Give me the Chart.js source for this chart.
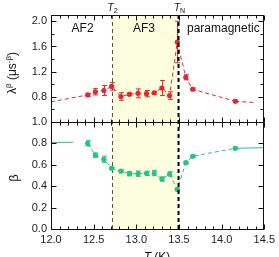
<!DOCTYPE html>
<html>
<head>
<meta charset="utf-8">
<script src="https://cdn.jsdelivr.net/npm/chart.js@4.4.1/dist/chart.umd.min.js"></script>
<style>
  html, body { margin: 0; padding: 0; background: #fff; }
  canvas { display: block; }
</style>
</head>
<body>
<canvas id="myChart" width="279" height="257"></canvas>
<script>
// temperatures (K) of the measured points, shared by both panels
const temps = [12.43, 12.52, 12.62, 12.71, 12.82, 12.92, 13.02, 13.12, 13.21, 13.30, 13.39, 13.48, 13.58, 13.66, 14.16];

// top panel: lambda^beta (us^-beta)
const lambdaVals = [0.83, 0.88, 0.90, 0.965, 0.805, 0.84, 0.855, 0.85, 0.865, 0.94, 0.82, 1.67, 1.11, 0.92, 0.73];
const lambdaErr  = [0.02, 0.05, 0.08, 0.06, 0.06, 0.02, 0.07, 0.05, 0.02, 0.12, 0.06, 0.33, 0.04, 0.02, 0.02];
const lambdaLeadT = [12.0, 12.43];
const lambdaLead  = [0.72, 0.83];
const lambdaTailT = [14.16, 14.38];
const lambdaTail  = [0.73, 0.71];

// bottom panel: beta
const betaVals = [0.80, 0.69, 0.65, 0.567, 0.54, 0.517, 0.517, 0.52, 0.523, 0.467, 0.514, 0.37, 0.62, 0.68, 0.754];
const betaErr  = [0.025, 0.02, 0.03, 0.01, 0.01, 0.02, 0.025, 0.02, 0.025, 0.02, 0.02, 0.01, 0.01, 0.01, 0.01];
const betaLeadT = [12.0, 12.26];
const betaLead  = [0.81, 0.81];
const betaTailT = [14.16, 14.5];
const betaTail  = [0.754, 0.76];

// transitions
const T2 = 12.71;
const TN = 13.495;

// ticks
const xTicks = [12.0, 12.5, 13.0, 13.5, 14.0, 14.5];
const lambdaTicks = [0.8, 1.2, 1.6, 2.0];
const lambdaMinor = [0.6, 1.0, 1.4, 1.8];
const betaTicks = [0.0, 0.2, 0.4, 0.6, 0.8, 1.0];

const RED = '#e8262e';
const GREEN = '#27c284';
const FONT = "'Liberation Sans', Arial, sans-serif";

const pts = (xs, ys) => xs.map((x, i) => ({ x: x, y: ys[i] }));

function drawErrors(chart, idx, errs, scaleId) {
  const ctx = chart.ctx;
  const meta = chart.getDatasetMeta(idx);
  const ys = chart.scales[scaleId];
  ctx.save();
  ctx.strokeStyle = chart.data.datasets[idx].borderColor;
  ctx.lineWidth = 1;
  meta.data.forEach((p, i) => {
    const v = chart.data.datasets[idx].data[i].y;
    const e = errs[i];
    if (!e) return;
    const y1 = ys.getPixelForValue(v - e), y2 = ys.getPixelForValue(v + e);
    const x = Math.round(p.x) + 0.5;
    ctx.beginPath();
    ctx.moveTo(x, y1); ctx.lineTo(x, y2);
    ctx.moveTo(x - 2.5, y1); ctx.lineTo(x + 2.5, y1);
    ctx.moveTo(x - 2.5, y2); ctx.lineTo(x + 2.5, y2);
    ctx.stroke();
  });
  ctx.restore();
}

function drawPanel(ctx, x, y, majY, minY) {
  const l = Math.round(x.left) + 0.5, r = Math.round(x.right) - 0.5;
  const t = Math.round(y.top) + 0.5, b = Math.round(y.bottom) + 0.5;
  ctx.strokeRect(l, t, r - l, b - t);
  ctx.beginPath();
  for (let v = 12.0; v <= 14.5001; v += 0.1) {
    const major = Math.abs(v * 2 - Math.round(v * 2)) < 1e-6;
    const len = major ? 5 : 3;
    const px = Math.round(x.getPixelForValue(v)) + 0.5;
    ctx.moveTo(px, b); ctx.lineTo(px, b - len);
    ctx.moveTo(px, t); ctx.lineTo(px, t + len);
  }
  majY.forEach(v => {
    const py = Math.round(y.getPixelForValue(v)) + 0.5;
    ctx.moveTo(l, py); ctx.lineTo(l + 5, py);
    ctx.moveTo(r, py); ctx.lineTo(r - 5, py);
  });
  minY.forEach(v => {
    const py = Math.round(y.getPixelForValue(v)) + 0.5;
    ctx.moveTo(l, py); ctx.lineTo(l + 3, py);
    ctx.moveTo(r, py); ctx.lineTo(r - 3, py);
  });
  ctx.stroke();
}

// draws a run of [text, size, italic, dy] pieces centred on 0
function drawPieces(ctx, pieces) {
  let w = 0;
  pieces.forEach(p => {
    ctx.font = (p[2] ? 'italic ' : '') + p[1] + 'px ' + FONT;
    w += ctx.measureText(p[0]).width;
  });
  let cx = -w / 2;
  pieces.forEach(p => {
    ctx.font = (p[2] ? 'italic ' : '') + p[1] + 'px ' + FONT;
    ctx.fillText(p[0], cx, p[3]);
    cx += ctx.measureText(p[0]).width;
  });
}

const panelPlugin = {
  id: 'panels',
  beforeDatasetsDraw(chart) {
    const { ctx, scales: { x, yt, yb } } = chart;
    const x1 = x.getPixelForValue(T2), x2 = x.getPixelForValue(TN);
    ctx.save();
    ctx.fillStyle = '#fdfde0';
    ctx.fillRect(x1, yt.top, x2 - x1, yb.bottom - yt.top);
    ctx.strokeStyle = '#555';
    ctx.lineWidth = 1;
    ctx.setLineDash([4, 3]);
    ctx.beginPath();
    ctx.moveTo(Math.round(x1) + 0.5, yt.top);
    ctx.lineTo(Math.round(x1) + 0.5, yb.bottom);
    ctx.stroke();
    ctx.restore();
  },
  afterDatasetsDraw(chart) {
    drawErrors(chart, 0, lambdaErr, 'yt');
    drawErrors(chart, 3, betaErr, 'yb');
  },
  afterDraw(chart) {
    const { ctx, scales: { x, yt, yb } } = chart;
    ctx.save();
    // T_N line
    const xn = x.getPixelForValue(TN);
    ctx.strokeStyle = '#000';
    ctx.lineWidth = 2;
    ctx.setLineDash([4, 3]);
    ctx.beginPath();
    ctx.moveTo(xn, yt.top); ctx.lineTo(xn, yb.bottom);
    ctx.stroke();
    ctx.setLineDash([]);
    ctx.lineWidth = 1;
    ctx.strokeStyle = '#111';
    drawPanel(ctx, x, yt, lambdaTicks, lambdaMinor);
    drawPanel(ctx, x, yb, betaTicks, []);

    ctx.fillStyle = '#111';
    ctx.textBaseline = 'alphabetic';
    // phase labels
    ctx.font = '12px ' + FONT;
    ctx.textAlign = 'center';
    ctx.fillText('AF2', x.getPixelForValue(12.37), yt.top + 17);
    ctx.fillText('AF3', x.getPixelForValue(13.09), yt.top + 17);
    ctx.fillText('paramagnetic', x.getPixelForValue(14.02), yt.top + 17);
    ctx.textAlign = 'left';

    // transition labels
    ctx.save();
    ctx.translate(x.getPixelForValue(T2) + 1, 11);
    drawPieces(ctx, [['T', 10, true, 0], ['2', 7, false, 2]]);
    ctx.restore();
    ctx.save();
    ctx.translate(x.getPixelForValue(TN) + 1, 11);
    drawPieces(ctx, [['T', 10, true, 0], ['N', 7, false, 2]]);
    ctx.restore();

    // axis titles
    ctx.save();
    ctx.translate(16, 73);
    ctx.rotate(-Math.PI / 2);
    drawPieces(ctx, [['\u03bb', 12, false, 0], ['\u03b2', 8, false, -5], [' (\u03bcs', 12, false, 0], ['-\u03b2', 8, false, -5], [')', 12, false, 0]]);
    ctx.restore();
    ctx.save();
    ctx.translate(18, 178);
    ctx.rotate(-Math.PI / 2);
    drawPieces(ctx, [['\u03b2', 13, false, 0]]);
    ctx.restore();
    ctx.save();
    ctx.translate(157, 261);
    drawPieces(ctx, [['T', 12, true, 0], [' (K)', 12, false, 0]]);
    ctx.restore();
    ctx.restore();
  }
};

const tickFont = { family: FONT, size: 11 };

const config = {
  type: 'scatter',
  data: {
    datasets: [
      { data: pts(temps, lambdaVals), yAxisID: 'yt', showLine: true, borderColor: RED, backgroundColor: RED,
        borderWidth: 1, borderDash: [4, 3], pointRadius: 2.6, pointBorderWidth: 0 },
      { data: pts(lambdaLeadT, lambdaLead), yAxisID: 'yt', showLine: true, borderColor: RED,
        borderWidth: 1, borderDash: [4, 3], pointRadius: 0 },
      { data: pts(lambdaTailT, lambdaTail), yAxisID: 'yt', showLine: true, borderColor: RED,
        borderWidth: 1, borderDash: [4, 3], pointRadius: 0 },
      { data: pts(temps, betaVals), yAxisID: 'yb', showLine: true, borderColor: GREEN, backgroundColor: GREEN,
        borderWidth: 1, borderDash: [4, 3], pointRadius: 2.6, pointBorderWidth: 0 },
      { data: pts(betaLeadT, betaLead), yAxisID: 'yb', showLine: true, borderColor: GREEN,
        borderWidth: 1, pointRadius: 0 },
      { data: pts(betaTailT, betaTail), yAxisID: 'yb', showLine: true, borderColor: GREEN,
        borderWidth: 1, pointRadius: 0 }
    ]
  },
  options: {
    responsive: false,
    animation: false,
    layout: { padding: { left: 0, right: 14, top: 15, bottom: 0 } },
    plugins: { legend: { display: false }, tooltip: { enabled: false } },
    scales: {
      x: {
        type: 'linear', min: 12, max: 14.5,
        afterBuildTicks: s => { s.ticks = xTicks.map(v => ({ value: v })); },
        ticks: { font: tickFont, color: '#222', padding: 4, maxRotation: 0, autoSkip: false, callback: v => v.toFixed(1) },
        grid: { display: false, drawTicks: false },
        border: { display: false },
        afterFit: s => { s.height = 28; }
      },
      yb: {
        type: 'linear', position: 'left', stack: 'panels', stackWeight: 1, min: 0, max: 1,
        afterBuildTicks: s => { s.ticks = betaTicks.map(v => ({ value: v })); },
        ticks: { font: tickFont, color: '#222', padding: 4, autoSkip: false, callback: v => v.toFixed(1) },
        grid: { display: false, drawTicks: false },
        border: { display: false },
        afterFit: s => { s.width = 51; }
      },
      yt: {
        type: 'linear', position: 'left', stack: 'panels', stackWeight: 1, min: 0.4, max: 2.1,
        afterBuildTicks: s => { s.ticks = lambdaTicks.map(v => ({ value: v })); },
        ticks: { font: tickFont, color: '#222', padding: 4, autoSkip: false, callback: v => v.toFixed(1) },
        grid: { display: false, drawTicks: false },
        border: { display: false },
        afterFit: s => { s.width = 51; }
      }
    }
  },
  plugins: [panelPlugin]
};

const myChart = new Chart(document.getElementById('myChart'), config);
</script>
</body>
</html>
